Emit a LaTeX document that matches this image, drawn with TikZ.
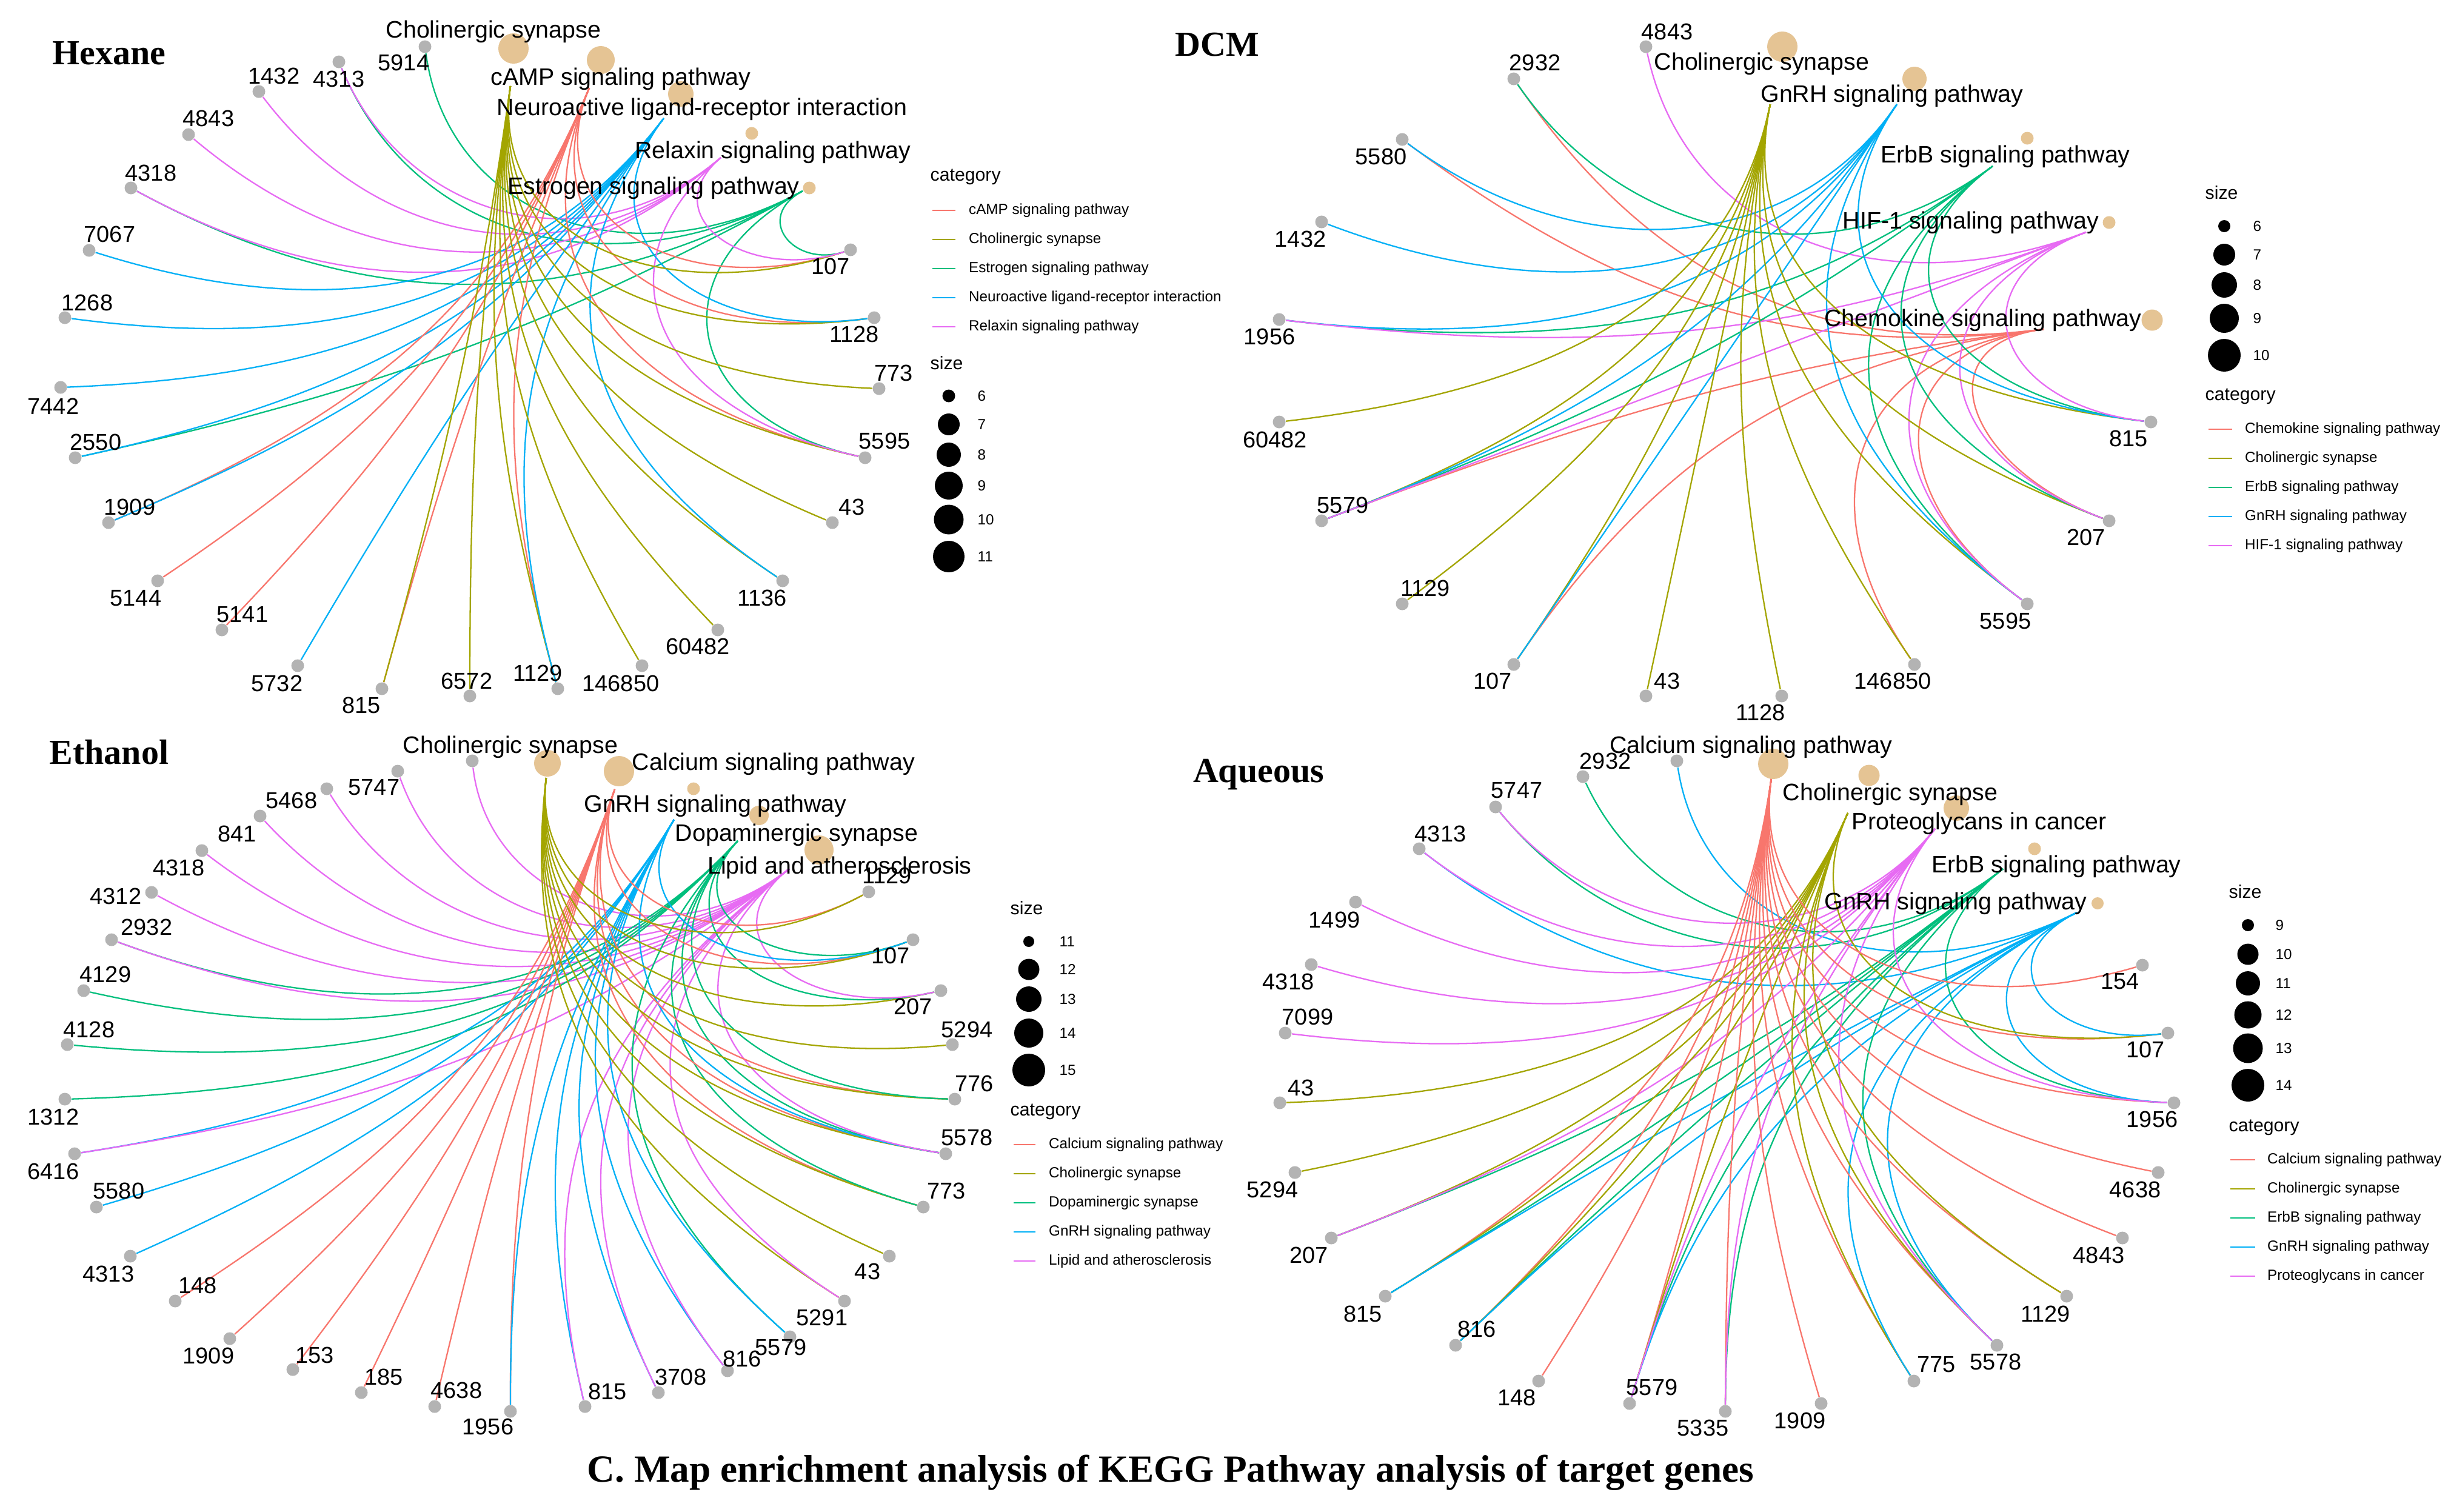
\documentclass[tikz,border=0pt]{standalone}
\usepackage{fontspec}
\setmainfont{Liberation Sans}
\newfontfamily\headfont{Liberation Serif}
\usetikzlibrary{calc}

\definecolor{catred}{HTML}{F8766D}
\definecolor{catolive}{HTML}{A3A500}
\definecolor{catgreen}{HTML}{00BF7D}
\definecolor{catblue}{HTML}{00B0F6}
\definecolor{catpink}{HTML}{E76BF3}
\definecolor{genegray}{HTML}{B3B3B3}
\definecolor{pwtan}{HTML}{E5C494}

\pgfdeclarelayer{bg}
\pgfdeclarelayer{edges}
\pgfsetlayers{bg,edges,main}

\newdimen\arcxa \newdimen\arcya
\newdimen\arcxb \newdimen\arcyb
\newdimen\arcxc \newdimen\arcyc
\def\ringrx{6.75}
\def\ringry{5.36}

% edge gene -> pathway, bent inwards like the ring layout
\newcommand{\ringarc}[3]{%
  \pgfextractx{\arcxa}{\pgfpointanchor{#2}{center}}%
  \pgfextracty{\arcya}{\pgfpointanchor{#2}{center}}%
  \pgfextractx{\arcxb}{\pgfpointanchor{#3}{center}}%
  \pgfextracty{\arcyb}{\pgfpointanchor{#3}{center}}%
  \pgfextractx{\arcxc}{\pgfpointanchor{ring}{center}}%
  \pgfextracty{\arcyc}{\pgfpointanchor{ring}{center}}%
  \pgfmathsetmacro{\arca}{atan2((\arcya-\arcyc)/\ringry,(\arcxa-\arcxc)/\ringrx)}%
  \pgfmathsetmacro{\arcb}{atan2((\arcyb-\arcyc)/\ringry,(\arcxb-\arcxc)/\ringrx)}%
  \pgfmathsetmacro{\arch}{min(abs(mod(\arcb-(\arca)+540,360)-180)/2,88)}%
  \pgfmathsetmacro{\arcd}{1.15*4/3*tan(45-\arch/2)*tan(\arch)}%
  \draw[#1] (#2) .. controls ($(#2)!\arcd!(ring)$) and ($(#3)!\arcd!(ring)$) .. (#3);%
}

\tikzset{
  gene/.style={circle, fill=genegray, inner sep=0pt, minimum size=0.21cm},
  glab/.style={font=\fontsize{10.8}{12}\selectfont, inner sep=0pt},
  glabel/.style n args={3}{label={[glab, shift={(#1,#2)}]center:#3}},
  pw/.style={circle, fill=pwtan, inner sep=0pt, minimum size=#1},
  plab/.style={font=\fontsize{11.2}{13}\selectfont, inner sep=0pt},
  ed1/.style={draw=catred, line width=0.65pt},
  ed2/.style={draw=catolive, line width=0.65pt},
  ed3/.style={draw=catgreen, line width=0.65pt},
  ed4/.style={draw=catblue, line width=0.65pt},
  ed5/.style={draw=catpink, line width=0.65pt},
  legtitle/.style={font=\fontsize{8.6}{10}\selectfont, anchor=west, inner sep=0pt},
  legtext/.style={font=\fontsize{6.9}{8}\selectfont, anchor=west, inner sep=0pt},
  legdot/.style={circle, fill=black, inner sep=0pt, minimum size=#1},
  panel/.style={font=\headfont\bfseries\fontsize{16.5}{19}\selectfont, inner sep=0pt},
}

\begin{document}
\begin{tikzpicture}
\begin{pgfonlayer}{bg}
\fill[white] (0,0) rectangle (40.43,-24.93);
\end{pgfonlayer}
\useasboundingbox (0,0) rectangle (40.43,-24.93);

% ---------------- Hexane
\node[panel] (hxtitle) at (1.80,-0.88) {Hexane};

\node[pw=0.46cm] (hxc1) at (9.91,-0.99) {};
\node[pw=0.50cm] (hxc2) at (8.47,-0.80) {};
\node[pw=0.21cm] (hxc3) at (13.35,-3.10) {};
\node[pw=0.42cm] (hxc4) at (11.23,-1.55) {};
\node[pw=0.21cm] (hxc5) at (12.40,-2.20) {};
\coordinate (hxp1) at (9.72,-1.45);
\coordinate (hxp2) at (8.42,-1.42);
\coordinate (hxp3) at (13.24,-3.15);
\coordinate (hxp4) at (10.95,-1.95);
\coordinate (hxp5) at (11.89,-2.60);
\node[plab] (hxt1) at (10.24,-1.30) {cAMP signaling pathway};
\node[plab] (hxt2) at (8.14,-0.52) {Cholinergic synapse};
\node[plab] (hxt3) at (10.78,-3.10) {Estrogen signaling pathway};
\node[plab] (hxt4) at (11.58,-1.80) {Neuroactive ligand-receptor interaction};
\node[plab] (hxt5) at (12.75,-2.51) {Relaxin signaling pathway};

\node[gene, glabel={-0.35}{-0.26}{5914}] (hxg5914) at (7.01,-0.77) {};
\node[gene, glabel={0}{-0.28}{4313}] (hxg4313) at (5.59,-1.02) {};
\node[gene, glabel={0.25}{0.26}{1432}] (hxg1432) at (4.27,-1.51) {};
\node[gene, glabel={0.33}{0.27}{4843}] (hxg4843) at (3.11,-2.22) {};
\node[gene, glabel={0.33}{0.25}{4318}] (hxg4318) at (2.16,-3.10) {};
\node[gene, glabel={0.34}{0.27}{7067}] (hxg7067) at (1.47,-4.13) {};
\node[gene, glabel={0.37}{0.25}{1268}] (hxg1268) at (1.07,-5.24) {};
\node[gene, glabel={-0.12}{-0.31}{7442}] (hxg7442) at (1.00,-6.39) {};
\node[gene, glabel={0.34}{0.26}{2550}] (hxg2550) at (1.24,-7.55) {};
\node[gene, glabel={0.35}{0.26}{1909}] (hxg1909) at (1.79,-8.62) {};
\node[gene, glabel={-0.36}{-0.29}{5144}] (hxg5144) at (2.60,-9.58) {};
\node[gene, glabel={0.34}{0.25}{5141}] (hxg5141) at (3.66,-10.39) {};
\node[gene, glabel={-0.34}{-0.29}{5732}] (hxg5732) at (4.91,-10.98) {};
\node[gene, glabel={-0.34}{-0.27}{815}] (hxg815) at (6.30,-11.36) {};
\node[gene, glabel={-0.05}{0.25}{6572}] (hxg6572) at (7.75,-11.48) {};
\node[gene, glabel={-0.33}{0.26}{1129}] (hxg1129) at (9.20,-11.36) {};
\node[gene, glabel={-0.35}{-0.29}{146850}] (hxg146850) at (10.59,-10.98) {};
\node[gene, glabel={-0.33}{-0.27}{60482}] (hxg60482) at (11.84,-10.39) {};
\node[gene, glabel={-0.34}{-0.28}{1136}] (hxg1136) at (12.91,-9.58) {};
\node[gene, glabel={0.32}{0.26}{43}] (hxg43) at (13.73,-8.62) {};
\node[gene, glabel={0.32}{0.28}{5595}] (hxg5595) at (14.27,-7.55) {};
\node[gene, glabel={0.24}{0.26}{773}] (hxg773) at (14.50,-6.41) {};
\node[gene, glabel={-0.33}{-0.27}{1128}] (hxg1128) at (14.42,-5.24) {};
\node[gene, glabel={-0.33}{-0.27}{107}] (hxg107) at (14.03,-4.12) {};

\coordinate (ring) at (7.75,-6.12);
\def\ringrx{6.75}
\begin{pgfonlayer}{edges}
\foreach \g/\k in {5914/3, 4313/3, 4313/5, 1432/5, 4843/5, 4318/3, 4318/5, 7067/4,
    1268/4, 7442/4, 2550/3, 2550/4, 1909/1, 1909/4, 5144/1, 5141/1, 5732/4, 815/1,
    815/2, 6572/2, 1129/1, 1129/2, 1129/4, 146850/2, 60482/2, 1136/2, 1136/4, 43/2,
    5595/1, 5595/2, 5595/3, 5595/5, 773/2, 1128/1, 1128/2, 1128/4, 107/1, 107/2,
    107/3, 107/5}
  {\ringarc{ed\k}{hxg\g}{hxp\k}}
\end{pgfonlayer}

\node[legtitle] (hxcat) at (15.34,-2.92) {category};
\foreach \t [count=\k] in {cAMP signaling pathway, Cholinergic synapse,
    Estrogen signaling pathway, Neuroactive ligand-receptor interaction,
    Relaxin signaling pathway}
  \draw[ed\k] (15.38,{-2.99-0.48*\k}) -- (15.76,{-2.99-0.48*\k}) node[legtext, right=0.21cm] {\t};
\node[legtitle] (hxsize) at (15.34,-5.99) {size};
\foreach \v/\y/\r in {6/6.53/0.21, 7/7.00/0.36, 8/7.50/0.40, 9/8.01/0.46, 10/8.57/0.49, 11/9.18/0.52} {
  \node[legdot=\r cm] at (15.65,-\y) {};
  \node[legtext] at (16.12,-\y) {\v};
}

% ---------------- DCM
\node[panel] (dctitle) at (20.08,-0.74) {DCM};

\node[pw=0.35cm] (dcc1) at (35.50,-5.28) {};
\node[pw=0.50cm] (dcc2) at (29.40,-0.77) {};
\node[pw=0.21cm] (dcc3) at (33.44,-2.28) {};
\node[pw=0.40cm] (dcc4) at (31.58,-1.30) {};
\node[pw=0.21cm] (dcc5) at (34.79,-3.67) {};
\coordinate (dcp1) at (33.71,-5.43);
\coordinate (dcp2) at (29.20,-1.72);
\coordinate (dcp3) at (32.87,-2.74);
\coordinate (dcp4) at (31.29,-1.72);
\coordinate (dcp5) at (34.41,-3.83);
\node[plab] (dct1) at (32.71,-5.28) {Chemokine signaling pathway};
\node[plab] (dct2) at (29.06,-1.05) {Cholinergic synapse};
\node[plab] (dct3) at (33.08,-2.58) {ErbB signaling pathway};
\node[plab] (dct4) at (31.21,-1.58) {GnRH signaling pathway};
\node[plab] (dct5) at (32.51,-3.67) {HIF-1 signaling pathway};

\node[gene, glabel={0.35}{0.25}{4843}] (dcg4843) at (27.15,-0.77) {};
\node[gene, glabel={0.35}{0.27}{2932}] (dcg2932) at (24.97,-1.30) {};
\node[gene, glabel={-0.35}{-0.28}{5580}] (dcg5580) at (23.13,-2.30) {};
\node[gene, glabel={-0.35}{-0.28}{1432}] (dcg1432) at (21.80,-3.66) {};
\node[gene, glabel={-0.16}{-0.28}{1956}] (dcg1956) at (21.10,-5.27) {};
\node[gene, glabel={-0.07}{-0.29}{60482}] (dcg60482) at (21.10,-6.96) {};
\node[gene, glabel={0.35}{0.26}{5579}] (dcg5579) at (21.80,-8.59) {};
\node[gene, glabel={0.38}{0.26}{1129}] (dcg1129) at (23.13,-9.96) {};
\node[gene, glabel={-0.35}{-0.27}{107}] (dcg107) at (24.97,-10.96) {};
\node[gene, glabel={0.35}{0.25}{43}] (dcg43) at (27.15,-11.48) {};
\node[gene, glabel={-0.35}{-0.27}{1128}] (dcg1128) at (29.39,-11.48) {};
\node[gene, glabel={-0.36}{-0.27}{146850}] (dcg146850) at (31.58,-10.96) {};
\node[gene, glabel={-0.36}{-0.28}{5595}] (dcg5595) at (33.44,-9.96) {};
\node[gene, glabel={-0.38}{-0.27}{207}] (dcg207) at (34.79,-8.59) {};
\node[gene, glabel={-0.37}{-0.27}{815}] (dcg815) at (35.48,-6.96) {};

\coordinate (ring) at (28.29,-6.12);
\def\ringrx{7.19}
\begin{pgfonlayer}{edges}
\foreach \g/\k in {4843/5, 2932/1, 2932/3, 5580/1, 5580/4, 1432/4, 1956/3, 1956/4,
    1956/5, 60482/2, 5579/1, 5579/2, 5579/3, 5579/4, 5579/5, 1129/2, 107/1, 107/2,
    107/4, 43/2, 1128/2, 146850/1, 146850/2, 5595/1, 5595/2, 5595/3, 5595/4, 5595/5,
    207/1, 207/2, 207/3, 207/5, 815/2, 815/3, 815/4, 815/5}
  {\ringarc{ed\k}{dcg\g}{dcp\k}}
\end{pgfonlayer}

\node[legtitle] (dcsize) at (36.37,-3.18) {size};
\foreach \v/\y/\r in {6/3.73/0.20, 7/4.20/0.36, 8/4.70/0.42, 9/5.25/0.48, 10/5.86/0.54} {
  \node[legdot=\r cm] at (36.69,-\y) {};
  \node[legtext] at (37.16,-\y) {\v};
}
\node[legtitle] (dccat) at (36.37,-6.54) {category};
\foreach \t [count=\k] in {Chemokine signaling pathway, Cholinergic synapse,
    ErbB signaling pathway, GnRH signaling pathway, HIF-1 signaling pathway}
  \draw[ed\k] (36.43,{-6.60-0.48*\k}) -- (36.82,{-6.60-0.48*\k}) node[legtext, right=0.20cm] {\t};

% ---------------- Ethanol
\node[panel] (ettitle) at (1.80,-12.41) {Ethanol};

\node[pw=0.50cm] (etc1) at (10.21,-12.72) {};
\node[pw=0.44cm] (etc2) at (9.03,-12.59) {};
\node[pw=0.32cm] (etc3) at (12.52,-13.45) {};
\node[pw=0.21cm] (etc4) at (11.44,-13.01) {};
\node[pw=0.48cm] (etc5) at (13.51,-14.02) {};
\coordinate (etp1) at (10.14,-13.02);
\coordinate (etp2) at (9.01,-12.83);
\coordinate (etp3) at (12.17,-13.87);
\coordinate (etp4) at (11.12,-13.52);
\coordinate (etp5) at (13.02,-14.33);
\node[plab] (ett1) at (12.76,-12.60) {Calcium signaling pathway};
\node[plab] (ett2) at (8.42,-12.32) {Cholinergic synapse};
\node[plab] (ett3) at (13.14,-13.77) {Dopaminergic synapse};
\node[plab] (ett4) at (11.80,-13.29) {GnRH signaling pathway};
\node[plab] (ett5) at (13.85,-14.31) {Lipid and atherosclerosis};

\node[gene] (etg0) at (7.79,-12.55) {};
\node[gene, glabel={-0.39}{-0.27}{5747}] (etg5747) at (6.56,-12.72) {};
\node[gene, glabel={-0.58}{-0.19}{5468}] (etg5468) at (5.39,-13.01) {};
\node[gene, glabel={-0.38}{-0.29}{841}] (etg841) at (4.29,-13.46) {};
\node[gene, glabel={-0.38}{-0.28}{4318}] (etg4318) at (3.33,-14.03) {};
\node[gene, glabel={-0.59}{-0.06}{4312}] (etg4312) at (2.50,-14.72) {};
\node[gene, glabel={0.58}{0.21}{2932}] (etg2932) at (1.84,-15.50) {};
\node[gene, glabel={0.36}{0.27}{4129}] (etg4129) at (1.38,-16.34) {};
\node[gene, glabel={0.36}{0.25}{4128}] (etg4128) at (1.11,-17.23) {};
\node[gene, glabel={-0.19}{-0.29}{1312}] (etg1312) at (1.07,-18.13) {};
\node[gene, glabel={-0.35}{-0.29}{6416}] (etg6416) at (1.23,-19.03) {};
\node[gene, glabel={0.37}{0.27}{5580}] (etg5580) at (1.59,-19.91) {};
\node[gene, glabel={-0.36}{-0.29}{4313}] (etg4313) at (2.15,-20.72) {};
\node[gene, glabel={0.37}{0.26}{148}] (etg148) at (2.89,-21.46) {};
\node[gene, glabel={-0.35}{-0.28}{1909}] (etg1909) at (3.79,-22.08) {};
\node[gene, glabel={0.36}{0.24}{153}] (etg153) at (4.83,-22.59) {};
\node[gene, glabel={0.37}{0.26}{185}] (etg185) at (5.96,-22.97) {};
\node[gene, glabel={0.36}{0.27}{4638}] (etg4638) at (7.17,-23.20) {};
\node[gene, glabel={-0.37}{-0.25}{1956}] (etg1956) at (8.42,-23.28) {};
\node[gene, glabel={0.37}{0.25}{815}] (etg815) at (9.65,-23.20) {};
\node[gene, glabel={0.37}{0.26}{3708}] (etg3708) at (10.86,-22.97) {};
\node[gene, glabel={0.24}{0.20}{816}] (etg816) at (12.00,-22.61) {};
\node[gene, glabel={-0.15}{-0.17}{5579}] (etg5579) at (13.03,-22.05) {};
\node[gene, glabel={-0.37}{-0.27}{5291}] (etg5291) at (13.93,-21.46) {};
\node[gene, glabel={-0.36}{-0.25}{43}] (etg43) at (14.67,-20.72) {};
\node[gene, glabel={0.38}{0.27}{773}] (etg773) at (15.23,-19.91) {};
\node[gene, glabel={0.35}{0.27}{5578}] (etg5578) at (15.60,-19.03) {};
\node[gene, glabel={0.32}{0.26}{776}] (etg776) at (15.75,-18.13) {};
\node[gene, glabel={0.24}{0.25}{5294}] (etg5294) at (15.71,-17.23) {};
\node[gene, glabel={-0.46}{-0.26}{207}] (etg207) at (15.52,-16.34) {};
\node[gene, glabel={-0.37}{-0.26}{107}] (etg107) at (15.06,-15.50) {};
\node[gene, glabel={0.30}{0.27}{1129}] (etg1129) at (14.33,-14.71) {};

\coordinate (ring) at (8.41,-17.92);
\def\ringrx{7.34}
\begin{pgfonlayer}{edges}
\foreach \g/\k in {0/5, 5747/5, 5468/5, 841/5, 4318/5, 4312/5, 2932/3, 2932/5, 4129/3,
    4128/3, 1312/3, 6416/4, 6416/5, 5580/4, 4313/4, 148/1, 1909/1, 153/1, 185/1,
    4638/1, 1956/1, 1956/4, 815/4, 815/5, 3708/4, 3708/5, 816/4, 816/5, 5579/3,
    5579/4, 5291/2, 5291/5, 43/2, 773/1, 773/2, 773/3, 5578/1, 5578/2, 5578/3, 5578/4,
    5578/5, 776/1, 776/2, 776/3, 5294/2, 207/2, 207/3, 207/5, 107/1, 107/2, 107/3,
    107/4, 1129/1, 1129/2}
  {\ringarc{ed\k}{etg\g}{etp\k}}
\end{pgfonlayer}

\node[legtitle] (etsize) at (16.66,-14.98) {size};
\foreach \v/\y/\r in {11/15.53/0.18, 12/15.99/0.35, 13/16.48/0.42, 14/17.04/0.48, 15/17.65/0.54} {
  \node[legdot=\r cm] at (16.97,-\y) {};
  \node[legtext] at (17.47,-\y) {\v};
}
\node[legtitle] (etcat) at (16.66,-18.34) {category};
\foreach \t [count=\k] in {Calcium signaling pathway, Cholinergic synapse,
    Dopaminergic synapse, GnRH signaling pathway, Lipid and atherosclerosis}
  \draw[ed\k] (16.72,{-18.40-0.48*\k}) -- (17.08,{-18.40-0.48*\k}) node[legtext, right=0.21cm] {\t};

% ---------------- Aqueous
\node[panel] (aqtitle) at (20.76,-12.78) {Aqueous};

\node[pw=0.50cm] (aqc1) at (29.25,-12.60) {};
\node[pw=0.35cm] (aqc2) at (30.83,-12.79) {};
\node[pw=0.21cm] (aqc3) at (33.56,-14.00) {};
\node[pw=0.20cm] (aqc4) at (34.60,-14.90) {};
\node[pw=0.42cm] (aqc5) at (32.27,-13.33) {};
\coordinate (aqp1) at (29.22,-12.83);
\coordinate (aqp2) at (30.48,-13.41);
\coordinate (aqp3) at (33.04,-14.33);
\coordinate (aqp4) at (34.26,-15.05);
\coordinate (aqp5) at (31.92,-13.67);
\node[plab] (aqt1) at (28.88,-12.32) {Calcium signaling pathway};
\node[plab] (aqt2) at (31.18,-13.10) {Cholinergic synapse};
\node[plab] (aqt3) at (33.92,-14.29) {ErbB signaling pathway};
\node[plab] (aqt4) at (32.26,-14.90) {GnRH signaling pathway};
\node[plab] (aqt5) at (32.65,-13.58) {Proteoglycans in cancer};

\node[gene] (aqg0) at (27.66,-12.55) {};
\node[gene, glabel={0.37}{0.26}{2932}] (aqg2932) at (26.11,-12.81) {};
\node[gene, glabel={0.35}{0.27}{5747}] (aqg5747) at (24.67,-13.31) {};
\node[gene, glabel={0.35}{0.25}{4313}] (aqg4313) at (23.41,-14.00) {};
\node[gene, glabel={-0.35}{-0.29}{1499}] (aqg1499) at (22.36,-14.88) {};
\node[gene, glabel={-0.38}{-0.28}{4318}] (aqg4318) at (21.63,-15.91) {};
\node[gene, glabel={0.37}{0.27}{7099}] (aqg7099) at (21.20,-17.04) {};
\node[gene, glabel={0.35}{0.25}{43}] (aqg43) at (21.11,-18.19) {};
\node[gene, glabel={-0.37}{-0.28}{5294}] (aqg5294) at (21.36,-19.34) {};
\node[gene, glabel={-0.37}{-0.28}{207}] (aqg207) at (21.96,-20.42) {};
\node[gene, glabel={-0.37}{-0.29}{815}] (aqg815) at (22.85,-21.38) {};
\node[gene, glabel={0.35}{0.27}{816}] (aqg816) at (24.01,-22.19) {};
\node[gene, glabel={-0.36}{-0.27}{148}] (aqg148) at (25.38,-22.78) {};
\node[gene, glabel={0.37}{0.27}{5579}] (aqg5579) at (26.88,-23.15) {};
\node[gene, glabel={-0.37}{-0.27}{5335}] (aqg5335) at (28.46,-23.28) {};
\node[gene, glabel={-0.35}{-0.28}{1909}] (aqg1909) at (30.04,-23.15) {};
\node[gene, glabel={0.37}{0.27}{775}] (aqg775) at (31.57,-22.78) {};
\node[gene, glabel={-0.02}{-0.27}{5578}] (aqg5578) at (32.94,-22.19) {};
\node[gene, glabel={-0.35}{-0.29}{1129}] (aqg1129) at (34.09,-21.38) {};
\node[gene, glabel={-0.39}{-0.28}{4843}] (aqg4843) at (35.01,-20.42) {};
\node[gene, glabel={-0.38}{-0.28}{4638}] (aqg4638) at (35.60,-19.34) {};
\node[gene, glabel={-0.36}{-0.27}{1956}] (aqg1956) at (35.86,-18.19) {};
\node[gene, glabel={-0.37}{-0.27}{107}] (aqg107) at (35.76,-17.04) {};
\node[gene, glabel={-0.37}{-0.27}{154}] (aqg154) at (35.34,-15.92) {};

\coordinate (ring) at (28.48,-17.92);
\def\ringrx{7.37}
\begin{pgfonlayer}{edges}
\foreach \g/\k in {0/4, 2932/3, 5747/3, 5747/5, 4313/4, 4313/5, 1499/5, 4318/5, 7099/5,
    43/2, 5294/2, 207/2, 207/3, 207/5, 815/1, 815/2, 815/3, 815/4, 816/1, 816/2, 816/3,
    816/4, 148/1, 5579/1, 5579/2, 5579/3, 5579/4, 5579/5, 5335/1, 5335/3, 5335/5,
    1909/1, 775/1, 775/2, 775/4, 5578/1, 5578/2, 5578/3, 5578/4, 5578/5, 1129/1,
    1129/2, 4843/1, 4638/1, 1956/1, 1956/3, 1956/4, 1956/5, 107/1, 107/2, 107/4, 154/1}
  {\ringarc{ed\k}{aqg\g}{aqp\k}}
\end{pgfonlayer}

\node[legtitle] (aqsize) at (36.76,-14.71) {size};
\foreach \v/\y/\r in {9/15.26/0.20, 10/15.74/0.35, 11/16.22/0.40, 12/16.74/0.45, 13/17.29/0.49, 14/17.90/0.54} {
  \node[legdot=\r cm] at (37.08,-\y) {};
  \node[legtext] at (37.53,-\y) {\v};
}
\node[legtitle] (aqcat) at (36.76,-18.60) {category};
\foreach \t [count=\k] in {Calcium signaling pathway, Cholinergic synapse,
    ErbB signaling pathway, GnRH signaling pathway, Proteoglycans in cancer}
  \draw[ed\k] (36.79,{-18.65-0.48*\k}) -- (37.20,{-18.65-0.48*\k}) node[legtext, right=0.19cm] {\t};

\node[font=\headfont\bfseries\fontsize{18}{22}\selectfont, inner sep=0pt] (caption) at (19.31,-24.29)
  {C. Map enrichment analysis of KEGG Pathway analysis of target genes};
\end{tikzpicture}
\end{document}
